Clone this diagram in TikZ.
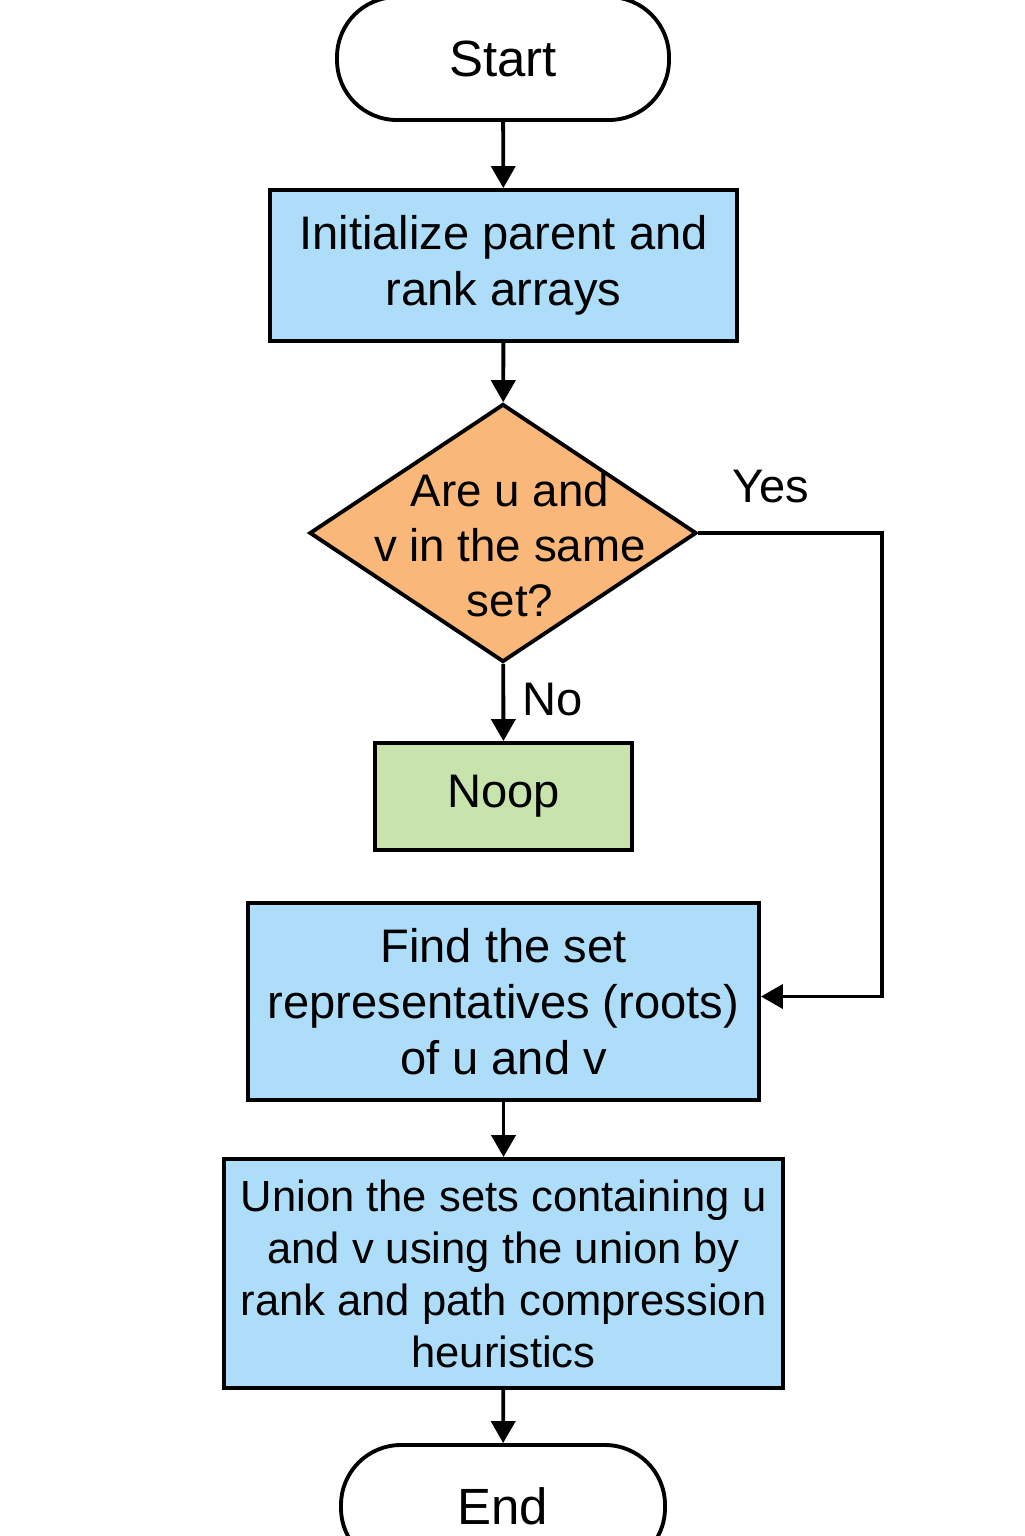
\documentclass[tikz,border=0pt]{standalone}
\usepackage{fontspec}
\setmainfont{Liberation Sans}
\usetikzlibrary{shapes.geometric,arrows.meta}
\definecolor{blueBox}{RGB}{174,221,250}
\definecolor{orangeBox}{RGB}{249,184,121}
\definecolor{greenBox}{RGB}{200,228,172}

\begin{document}
\begin{tikzpicture}[
  line width=1.1pt,
  font=\fontsize{13.4}{15.9}\selectfont,
  term/.style={draw, rounded corners=0.6cm, minimum height=1.23cm, font=\fontsize{14.5}{16}\selectfont},
  box/.style={draw, rectangle, align=center, inner sep=0pt},
  flow/.style={-{Triangle[length=0.22cm,width=0.24cm]}}
]
\useasboundingbox (0,0) rectangle (10.24,-15.36);
%页面大小(10.24 x 15.36),上下两个端点略超出边界
\node[term, minimum width=3.32cm] (start) at (5.03,-0.585) {Start};
%开始(start)
\node[box, fill=blueBox, minimum width=4.67cm, minimum height=1.51cm] (init) at (5.035,-2.655) {Initialize parent and\\rank arrays};
%初始化(init)
\node[draw, diamond, fill=orangeBox, minimum width=3.87cm, minimum height=2.58cm, inner sep=0pt] (check) at (5.03,-5.33) {};
\node[align=center, font=\fontsize{13}{15.6}\selectfont] (ask) at (5.1,-5.45) {Are u and\\v in the same\\set?};
%判断(check),文字(ask)略向下
\node[box, fill=greenBox, minimum width=2.57cm, minimum height=1.07cm] (noop) at (5.035,-7.965) {Noop};
%否(noop)
\node[box, fill=blueBox, minimum width=5.11cm, minimum height=1.97cm] (find) at (5.035,-10.015) {Find the set\\representatives (roots)\\of u and v};
%找根(find)
\node[box, fill=blueBox, minimum width=5.59cm, minimum height=2.29cm, font=\fontsize{12.4}{14.8}\selectfont] (union) at (5.035,-12.735) {Union the sets containing u\\and v using the union by\\rank and path compression\\heuristics};
%合并(union)
\node[term, minimum width=3.24cm] (stop) at (5.03,-15.065) {End};
%结束(stop)
\foreach \a/\b in {start/init, init/check, check/noop, find/union, union/stop} {\draw[flow] (\a) -- (\b);}
%竖直方向的箭头(flow)
\node (no) at (5.53,-7.0) {No};
\coordinate (bend) at (8.82,0);
\draw[flow] (check.east) -- (check.east -| bend) -- ([yshift=0.05cm]find.east -| bend) -- ([yshift=0.05cm]find.east);
%是(yes):向右,向下,再回到(find)
\node (yes) at (7.71,-4.87) {Yes};
\end{tikzpicture}
\end{document}
